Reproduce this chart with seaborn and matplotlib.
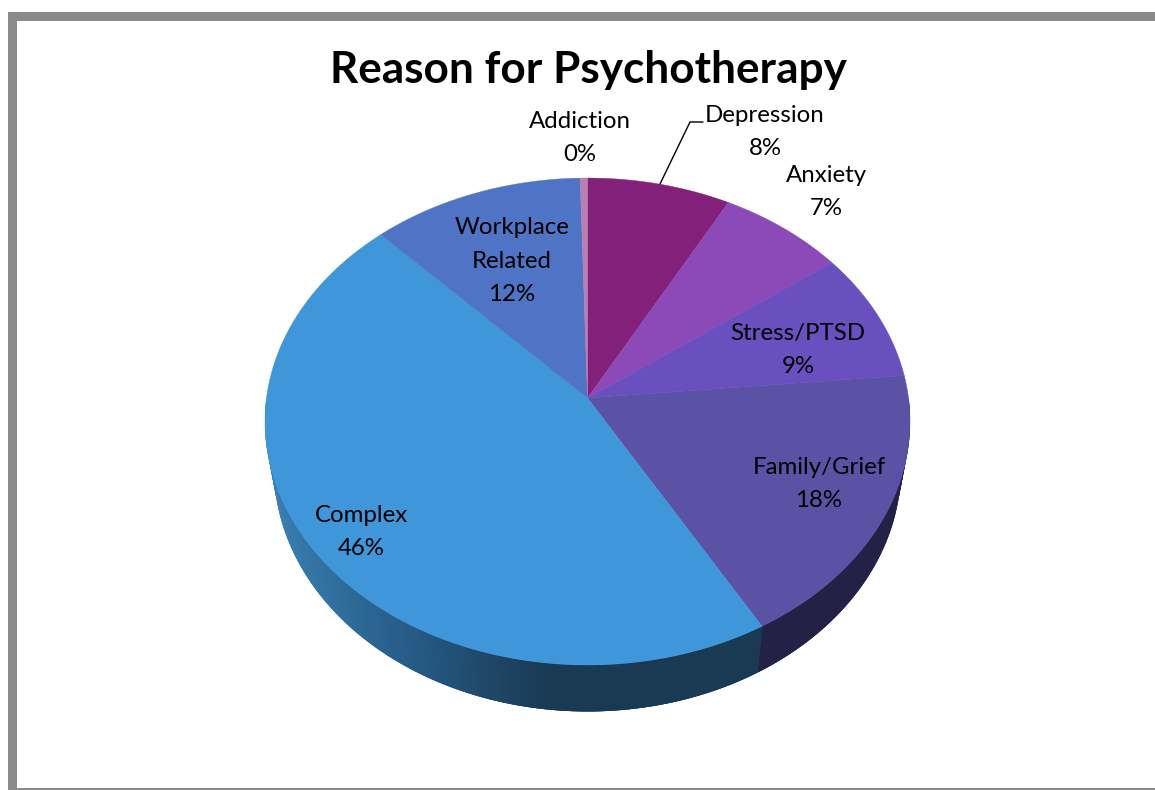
"""Reason for Psychotherapy - tilted 3D style pie."""
import numpy as np
import matplotlib
matplotlib.use("Agg")
import matplotlib.pyplot as plt
from matplotlib.patches import Rectangle
import seaborn as sns

# ── Data ───────────────────────────────────────────────────────────────────
categories = ["Depression", "Anxiety", "Stress/PTSD", "Family/Grief",
              "Complex", "Workplace\nRelated", "Addiction"]
values = [7.9, 7.0, 8.6, 18.2, 46.2, 11.7, 0.4]
slice_colors = ["#82207A", "#8C4AB8", "#6A4FBF", "#5C52A5",
                "#3F96D8", "#4F74C6", "#B87FB0"]
label_x = [765, 826, 798, 819, 361, 512, 580]
label_y = [132, 192, 350, 484, 532, 261, 138]

# ── Style ──────────────────────────────────────────────────────────────────
sns.set_theme(style="white")
plt.rcParams["font.family"] = ["Lato", "DejaVu Sans"]
FRAME = "#8A8A8A"

# tilt geometry, in pixels
CX, CY = 587.5, 398
A, B, K = 321, 241.2, 0.0965
DEPTH, SHRINK = 46.5, 0.972


def project(x, y):
    # perspective view of the unit disc, apex stays inside the ellipse
    w = 1 + K * np.asarray(y)
    return CX + A * np.asarray(x) / w, CY - B * np.asarray(y) / w


def wall_color(px, seam_x):
    # side wall of the Complex slice darkens left to right
    if px > seam_x:
        return "#232145"
    stops = [275, 350, 430, 485, 545]
    rgb = np.array([matplotlib.colors.to_rgb(c)
                    for c in ["#3A7DB2", "#2D6A96", "#245680", "#1F4868", "#1A3A54"]])
    return [np.interp(px, stops, rgb[:, i]) for i in range(3)]


fig = plt.figure(figsize=(11.55, 7.9), dpi=100, facecolor="white")
ax = fig.add_axes([0, 0, 1, 1])

# let pie work out the angles, then redraw each wedge in the tilted view
wedges, _ = ax.pie(values, colors=sns.color_palette(slice_colors),
                   startangle=90, counterclock=False)
angles = [(w.theta1, w.theta2, w.get_facecolor()) for w in wedges]
for w in wedges:
    w.remove()

ax.set_aspect("auto")
ax.set_xlim(0, 1155)
ax.set_ylim(790, 0)
ax.axis("off")

# seam between Complex and Family/Grief on the rim
t_seam = np.radians(angles[3][0])
seam_x = project(np.cos(t_seam), np.sin(t_seam))[0]

# side wall first, lower half only. Quads overlap the next ones so no white
# shows through the antialiased joins
t = np.radians(np.linspace(180, 360, 361))
px, py = project(np.cos(t), np.sin(t))
qx = CX + (px - CX) * SHRINK
qy = py + DEPTH
for i in range(len(t) - 1):
    j = min(i + 3, len(t) - 1)
    c = wall_color((px[i] + px[i + 1]) / 2, seam_x)
    seg = np.arange(i, j + 1)
    ax.fill(np.r_[px[seg], qx[seg][::-1]], np.r_[py[seg], qy[seg][::-1]],
            facecolor=c, edgecolor="none", zorder=1)

# top face
for th1, th2, col in angles:
    th = np.radians(np.linspace(th1, th2, 200))
    x, y = project(np.r_[0, np.cos(th)], np.r_[0, np.sin(th)])
    ax.fill(x, y, color=col, lw=0.3, zorder=2)

# labels
for name, v, lx, ly in zip(categories, values, label_x, label_y):
    ax.text(lx, ly, f"{name}\n{v:.0f}%", ha="center", va="center",
            fontsize=17.3, color="black", linespacing=1.72, zorder=5)

# leader line for Depression
ax.plot([660, 690, 703], [184, 122, 122], color="black", lw=1, zorder=4)

ax.text(588, 70, "Reason for Psychotherapy", ha="center", va="center",
        fontsize=31.8, fontweight="bold", color="black", zorder=5)

# outer frame
ax.add_patch(Rectangle((8, 12), 1147, 8.5, color=FRAME, lw=0, zorder=6))
ax.add_patch(Rectangle((8, 12), 8.5, 778, color=FRAME, lw=0, zorder=6))
ax.add_patch(Rectangle((8, 788.3), 1147, 1.7, color=FRAME, lw=0, zorder=6))

fig.savefig("out.png", dpi=100, facecolor="white")
